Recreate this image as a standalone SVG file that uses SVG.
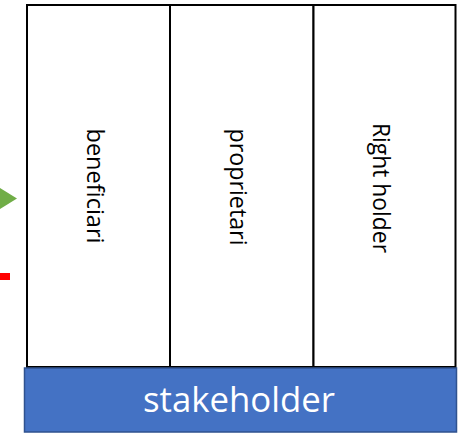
<svg xmlns="http://www.w3.org/2000/svg" width="461" height="433" viewBox="0 0 461 433">
  <style>
    .col { fill: #ffffff; stroke: #000000; stroke-width: 2; }
    .vlabel { font-family: "Open Sans", "Liberation Sans", sans-serif; font-size: 23px; fill: #000000; text-anchor: middle; }
    .bar { fill: #4472C4; stroke: #2F528F; stroke-width: 1.5; }
    .barlabel { font-family: "Open Sans", "Liberation Sans", sans-serif; font-size: 35px; fill: #ffffff; text-anchor: middle; }
  </style>
  <rect width="461" height="433" fill="#ffffff"/>
  <g id="connectors">
    <polygon points="0,188 17,198.5 0,209" fill="#70AD47"/>
    <rect x="0" y="273" width="10" height="7" fill="#FF0000"/>
  </g>
  <g id="beneficiari">
    <rect class="col" x="27" y="5" width="143" height="362"/>
    <text class="vlabel" x="87" y="186" transform="rotate(90 87 186)" textLength="115" lengthAdjust="spacingAndGlyphs">beneficiari</text>
  </g>
  <g id="proprietari">
    <rect class="col" x="170" y="5" width="143.5" height="362"/>
    <text class="vlabel" x="230" y="187" transform="rotate(90 230 187)" textLength="117" lengthAdjust="spacingAndGlyphs">proprietari</text>
  </g>
  <g id="right-holder">
    <rect class="col" x="313.5" y="5" width="142" height="362"/>
    <text class="vlabel" x="373" y="188" transform="rotate(90 373 188)" textLength="130" lengthAdjust="spacingAndGlyphs">Right holder</text>
  </g>
  <g id="stakeholder">
    <rect class="bar" x="24.5" y="368" width="432" height="64"/>
    <text class="barlabel" x="239" y="412" textLength="192" lengthAdjust="spacingAndGlyphs">stakeholder</text>
  </g>
</svg>
